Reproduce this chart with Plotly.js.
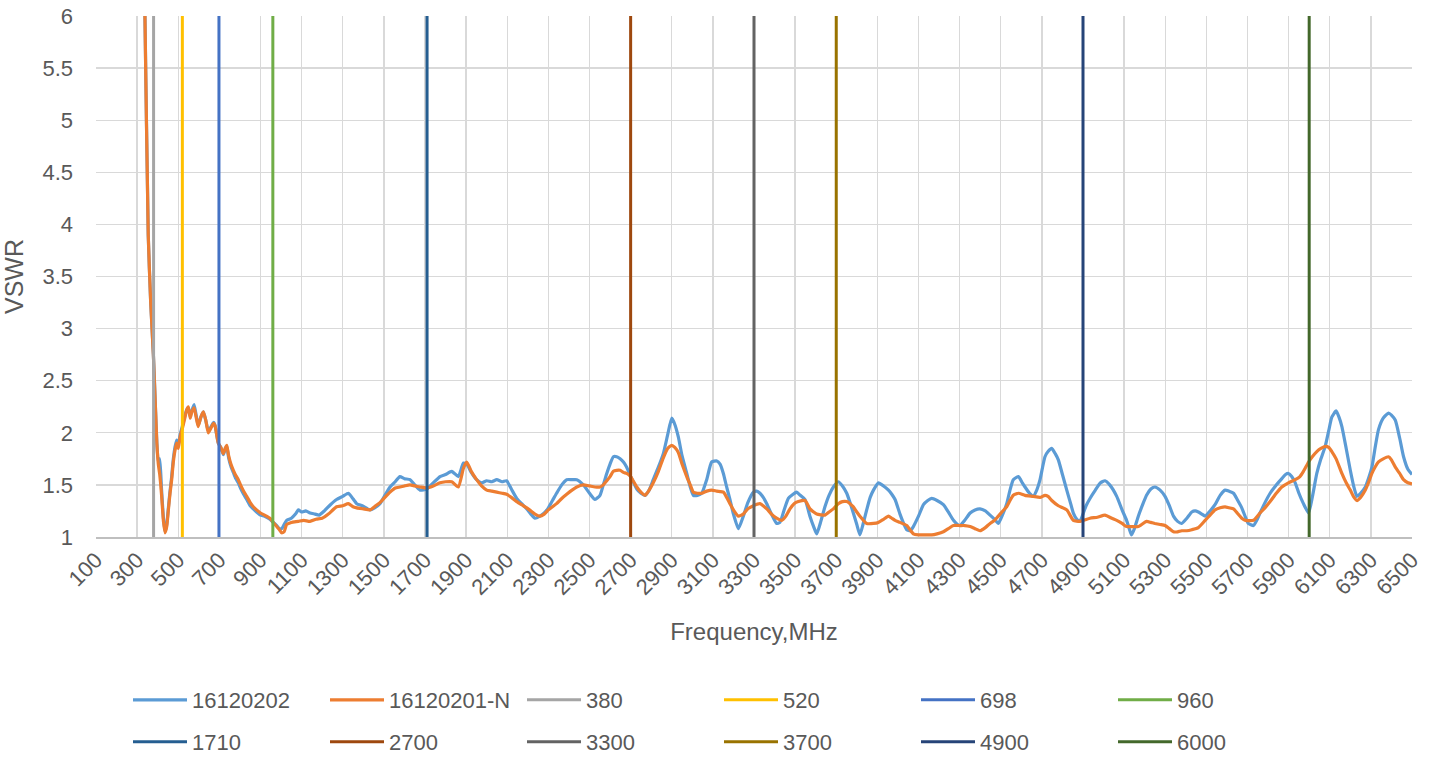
<!DOCTYPE html>
<html>
<head>
<meta charset="utf-8">
<script src="https://cdn.plot.ly/plotly-3.0.1.min.js"></script>
<style>html,body{margin:0;padding:0;background:#fff;}#chart{width:1431px;height:757px;}</style>
</head>
<body>
<div id="chart"></div>
<script>
// ---------- DATA ----------
const freqBlue = [320,338,354,366,379,390,396,403,410,419,428,436,444,452,460,468,476,484,492,500,509,521,533,541,549,558,566,577,587,597,610,622,634,646,660,672,679,687,695,707,719,728,736,745,756,768,780,792,805,818,833,850,865,881,900,920,946,962,979,992,1003,1015,1027,1050,1070,1084,1100,1120,1141,1165,1185,1210,1240,1270,1300,1327,1345,1368,1395,1432,1455,1481,1505,1530,1555,1578,1600,1627,1650,1676,1708,1740,1773,1800,1830,1862,1887,1903,1925,1951,1975,2000,2025,2049,2075,2097,2120,2146,2170,2195,2215,2235,2259,2280,2300,2320,2340,2365,2389,2415,2438,2470,2500,2527,2551,2567,2584,2600,2616,2632,2649,2665,2681,2700,2715,2730,2750,2770,2790,2810,2835,2859,2880,2900,2915,2932,2950,2973,2990,3005,3025,3046,3070,3094,3119,3135,3151,3167,3183,3200,3224,3248,3270,3297,3313,3329,3345,3362,3385,3410,3426,3445,3467,3490,3507,3525,3548,3572,3590,3605,3625,3645,3665,3686,3710,3730,3751,3767,3783,3800,3815,3830,3848,3865,3881,3905,3930,3954,3970,3986,4010,4030,4043,4060,4075,4100,4124,4145,4164,4190,4221,4245,4270,4290,4302,4325,4351,4375,4399,4425,4448,4470,4488,4510,4529,4545,4561,4586,4605,4618,4640,4658,4675,4691,4715,4730,4748,4765,4780,4800,4821,4840,4853,4870,4885,4900,4915,4934,4960,4985,5007,5030,5064,5090,5112,5125,5136,5150,5169,5190,5209,5230,5250,5275,5299,5320,5340,5360,5380,5405,5429,5445,5461,5478,5494,5518,5542,5567,5591,5610,5632,5650,5672,5690,5704,5729,5745,5761,5785,5810,5840,5867,5885,5899,5915,5932,5950,5972,5997,6015,6037,6057,6078,6095,6110,6131,6145,6159,6180,6200,6215,6232,6250,6273,6290,6305,6320,6337,6360,6386,6400,6419,6440,6459,6480,6500];
const vswrBlue = [8.0,6.0,3.9,3.25,2.75,2.2,1.9,1.72,1.75,1.45,1.18,1.05,1.12,1.28,1.44,1.58,1.75,1.86,1.93,1.88,1.98,2.07,2.17,2.22,2.24,2.16,2.21,2.27,2.17,2.07,2.15,2.2,2.12,2.02,2.06,2.1,2.07,1.98,1.9,1.86,1.79,1.84,1.87,1.76,1.68,1.62,1.56,1.52,1.46,1.41,1.36,1.3,1.27,1.24,1.21,1.2,1.17,1.14,1.11,1.08,1.08,1.12,1.16,1.18,1.22,1.26,1.24,1.25,1.23,1.22,1.21,1.25,1.31,1.36,1.39,1.42,1.38,1.32,1.3,1.26,1.28,1.32,1.4,1.48,1.53,1.58,1.56,1.55,1.5,1.45,1.46,1.52,1.58,1.6,1.63,1.58,1.71,1.7,1.62,1.55,1.52,1.54,1.53,1.55,1.53,1.54,1.46,1.37,1.32,1.27,1.22,1.18,1.2,1.23,1.28,1.35,1.42,1.5,1.55,1.55,1.55,1.5,1.42,1.36,1.4,1.5,1.61,1.7,1.77,1.77,1.75,1.72,1.67,1.58,1.52,1.46,1.42,1.4,1.45,1.55,1.67,1.8,1.98,2.14,2.08,1.96,1.78,1.61,1.48,1.4,1.4,1.42,1.55,1.72,1.73,1.7,1.61,1.48,1.36,1.22,1.08,1.2,1.33,1.43,1.44,1.42,1.38,1.32,1.22,1.13,1.14,1.25,1.37,1.41,1.43,1.4,1.36,1.2,1.1,1.03,1.15,1.29,1.4,1.48,1.53,1.49,1.42,1.33,1.23,1.12,1.02,1.12,1.26,1.38,1.45,1.52,1.49,1.45,1.41,1.36,1.22,1.12,1.07,1.06,1.1,1.2,1.31,1.35,1.37,1.35,1.31,1.24,1.16,1.12,1.11,1.16,1.23,1.26,1.27,1.25,1.21,1.17,1.13,1.22,1.32,1.45,1.55,1.58,1.52,1.48,1.42,1.39,1.45,1.55,1.77,1.82,1.85,1.8,1.74,1.6,1.45,1.32,1.23,1.17,1.15,1.22,1.3,1.37,1.45,1.52,1.54,1.5,1.39,1.26,1.16,1.08,1.02,1.08,1.2,1.31,1.4,1.46,1.48,1.45,1.39,1.3,1.2,1.15,1.13,1.18,1.24,1.25,1.24,1.22,1.2,1.25,1.31,1.4,1.45,1.44,1.42,1.36,1.28,1.19,1.13,1.11,1.16,1.23,1.33,1.42,1.5,1.56,1.6,1.61,1.58,1.52,1.42,1.32,1.23,1.38,1.61,1.75,1.87,2.02,2.15,2.21,2.15,2.06,1.85,1.64,1.5,1.39,1.42,1.48,1.57,1.67,1.85,2.03,2.14,2.19,2.17,2.12,1.95,1.77,1.65,1.6];

const freqOrange = [320,338,354,366,379,390,396,403,410,419,428,436,444,452,460,468,476,484,492,500,509,521,533,541,549,558,566,577,587,597,610,622,634,646,660,672,679,687,695,707,719,728,736,745,756,768,780,792,805,818,833,850,865,881,900,920,946,962,979,992,1003,1015,1027,1050,1084,1110,1141,1170,1200,1230,1270,1300,1327,1350,1368,1400,1432,1460,1481,1505,1530,1555,1578,1600,1627,1650,1676,1708,1740,1773,1800,1830,1862,1887,1903,1925,1951,1975,2000,2025,2049,2075,2097,2120,2146,2170,2195,2215,2235,2259,2280,2300,2320,2340,2365,2389,2415,2438,2470,2500,2527,2551,2567,2584,2600,2616,2632,2649,2665,2681,2700,2715,2730,2750,2770,2790,2810,2835,2859,2880,2900,2915,2932,2950,2973,2990,3005,3025,3046,3070,3094,3119,3151,3167,3183,3200,3224,3248,3270,3297,3329,3362,3385,3410,3435,3455,3475,3495,3516,3548,3572,3590,3605,3645,3665,3686,3710,3730,3751,3767,3783,3800,3815,3848,3881,3905,3930,3954,3970,3986,4010,4043,4075,4100,4124,4164,4190,4221,4245,4270,4302,4325,4351,4375,4399,4425,4448,4470,4488,4510,4529,4545,4561,4586,4618,4658,4691,4715,4730,4748,4780,4821,4853,4885,4934,4970,5007,5040,5064,5090,5112,5136,5169,5209,5230,5250,5275,5299,5320,5340,5360,5380,5405,5429,5461,5494,5518,5542,5567,5591,5610,5632,5650,5672,5690,5729,5761,5785,5810,5840,5867,5899,5932,5955,5972,5997,6015,6037,6057,6078,6095,6110,6131,6159,6180,6200,6215,6232,6250,6273,6290,6305,6320,6337,6360,6386,6400,6419,6440,6459,6480,6500];
const vswrOrange = [8.0,6.0,3.9,3.25,2.75,2.2,1.9,1.7,1.6,1.4,1.15,1.04,1.1,1.26,1.42,1.55,1.72,1.83,1.9,1.85,1.96,2.05,2.15,2.22,2.25,2.14,2.2,2.24,2.15,2.06,2.15,2.2,2.12,2.0,2.05,2.09,2.07,1.98,1.9,1.86,1.8,1.85,1.88,1.78,1.7,1.64,1.59,1.55,1.49,1.44,1.39,1.33,1.29,1.26,1.23,1.21,1.18,1.14,1.1,1.07,1.04,1.05,1.12,1.14,1.15,1.16,1.15,1.17,1.18,1.22,1.29,1.3,1.32,1.29,1.28,1.27,1.26,1.3,1.33,1.38,1.43,1.47,1.48,1.49,1.5,1.49,1.48,1.47,1.49,1.52,1.53,1.53,1.48,1.66,1.72,1.63,1.55,1.49,1.45,1.44,1.43,1.42,1.41,1.38,1.34,1.31,1.28,1.25,1.22,1.2,1.22,1.26,1.29,1.32,1.37,1.41,1.45,1.48,1.5,1.49,1.48,1.48,1.5,1.54,1.58,1.63,1.64,1.64,1.62,1.61,1.58,1.53,1.48,1.43,1.4,1.45,1.52,1.63,1.76,1.85,1.88,1.86,1.81,1.7,1.58,1.5,1.43,1.42,1.42,1.44,1.45,1.44,1.43,1.38,1.32,1.26,1.2,1.22,1.27,1.3,1.32,1.27,1.22,1.18,1.16,1.2,1.27,1.32,1.34,1.35,1.27,1.24,1.22,1.21,1.24,1.27,1.32,1.34,1.34,1.32,1.29,1.24,1.2,1.13,1.13,1.14,1.17,1.2,1.18,1.16,1.14,1.11,1.03,1.02,1.02,1.02,1.03,1.05,1.08,1.11,1.11,1.11,1.1,1.08,1.06,1.09,1.13,1.16,1.2,1.25,1.29,1.35,1.4,1.42,1.4,1.39,1.38,1.4,1.39,1.35,1.3,1.26,1.16,1.15,1.18,1.19,1.21,1.18,1.16,1.13,1.1,1.1,1.1,1.15,1.14,1.13,1.12,1.11,1.08,1.05,1.05,1.06,1.06,1.07,1.09,1.16,1.21,1.26,1.28,1.29,1.28,1.27,1.23,1.18,1.16,1.16,1.23,1.28,1.34,1.42,1.48,1.52,1.55,1.58,1.63,1.72,1.77,1.82,1.85,1.87,1.86,1.82,1.75,1.61,1.52,1.45,1.39,1.35,1.38,1.45,1.53,1.61,1.67,1.72,1.75,1.77,1.74,1.67,1.61,1.55,1.52,1.51];

const markerFreqs = [380, 520, 698, 960, 1710, 2700, 3300, 3700, 4900, 6000];
const markerNames = ['380', '520', '698', '960', '1710', '2700', '3300', '3700', '4900', '6000'];
const seriesNames = ['16120202', '16120201-N'];
const vswrRange = [1, 6];
const freqRange = [100, 6500];

// ---------- STYLE ----------
const seriesColors = ['#5B9BD5', '#ED7D31'];
const markerColors = ['#A5A5A5', '#FFC000', '#4472C4', '#70AD47', '#255E91', '#9E480E', '#636363', '#997300', '#264478', '#43682B'];
const textColor = '#595959';
const gridColor = '#d9d9d9';
const fontFam = 'Liberation Sans, Arial, sans-serif';

const traces = [];
traces.push({x: freqBlue, y: vswrBlue, name: seriesNames[0], type: 'scatter', mode: 'lines',
  line: {color: seriesColors[0], width: 3.2, shape: 'spline', smoothing: 0.5}, legend: 'legend'});
traces.push({x: freqOrange, y: vswrOrange, name: seriesNames[1], type: 'scatter', mode: 'lines',
  line: {color: seriesColors[1], width: 3.2, shape: 'spline', smoothing: 0.5}, legend: 'legend'});
markerFreqs.forEach((f, i) => {
  traces.push({x: [f, f], y: [vswrRange[0], vswrRange[1]], name: markerNames[i], type: 'scatter', mode: 'lines',
    line: {color: markerColors[i], width: 3}, legend: (traces.length < 6 ? 'legend' : 'legend2')});
});

const legendCommon = {
  orientation: 'h', xref: 'container', yref: 'container', xanchor: 'left', yanchor: 'middle',
  entrywidth: 128, entrywidthmode: 'pixels', itemwidth: 54,
  font: {family: fontFam, size: 22, color: textColor}, bgcolor: 'rgba(0,0,0,0)', borderwidth: 0,
  traceorder: 'normal', itemclick: false
};

const layout = {
  width: 1431, height: 757,
  margin: {l: 96, r: 19, t: 16, b: 220, pad: 0},
  paper_bgcolor: '#ffffff', plot_bgcolor: '#ffffff',
  font: {family: fontFam, color: textColor},
  showlegend: true,
  xaxis: {
    range: freqRange, tick0: 100, dtick: 200, tickmode: 'linear', tickangle: -45,
    showgrid: true, gridcolor: gridColor, gridwidth: 1.3,
    minor: {showgrid: false, ticks: ''},
    showline: true, linecolor: '#bfbfbf', linewidth: 1.5,
    zeroline: false, ticks: '', automargin: false,
    tickfont: {family: fontFam, size: 22, color: textColor},
    title: {text: 'Frequency,MHz', font: {family: fontFam, size: 24, color: textColor}, standoff: 24}
  },
  yaxis: {
    range: vswrRange, dtick: 0.5, tick0: 1, tickmode: 'linear',
    showgrid: true, gridcolor: gridColor, gridwidth: 1.3,
    minor: {showgrid: false, ticks: ''},
    showline: false, zeroline: false, ticks: '', automargin: false,
    ticklabelstandoff: 22,
    tickfont: {family: fontFam, size: 22, color: textColor},
    title: {text: 'VSWR', font: {family: fontFam, size: 25, color: textColor}, standoff: 12}
  },
  legend: Object.assign({}, legendCommon, {x: 128 / 1431, y: 1 - 700 / 757}),
  legend2: Object.assign({}, legendCommon, {x: 128 / 1431, y: 1 - 742 / 757})
};

Plotly.newPlot('chart', traces, layout, {displayModeBar: false, staticPlot: true});
</script>
</body>
</html>
